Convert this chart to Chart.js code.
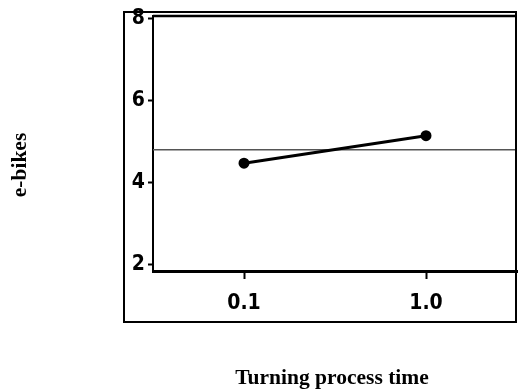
<!DOCTYPE html>
<html>
<head>
<meta charset="utf-8">
<script src="https://cdn.jsdelivr.net/npm/chart.js@4/dist/chart.umd.min.js"></script>
<style>
  html, body { margin: 0; padding: 0; background: #ffffff; }
  #wrap { width: 518px; height: 390px; }
</style>
</head>
<body>
<div id="wrap"><canvas id="c" width="518" height="390"></canvas></div>
<script>
// ---- data ----
const categories = ['0.1', '1.0'];
const meanValues = [4.48, 5.15];
const overallMean = 4.81;
const yTickValues = [2, 4, 6, 8];
const xTitle = 'Turning process time';
const yTitle = 'e-bikes';

const tickFont = { family: "'DejaVu Sans Condensed', 'DejaVu Sans', sans-serif", size: 21, weight: 'bold' };

const framePlugin = {
  id: 'frame',
  beforeDatasetsDraw(chart) {
    const { ctx, chartArea, scales } = chart;
    const y = scales.y.getPixelForValue(overallMean);
    ctx.save();
    ctx.strokeStyle = '#555555';
    ctx.lineWidth = 1.5;
    ctx.beginPath();
    ctx.moveTo(chartArea.left, y);
    ctx.lineTo(chartArea.right, y);
    ctx.stroke();
    ctx.restore();
  },
  afterDraw(chart) {
    const { ctx, chartArea } = chart;
    ctx.save();
    ctx.strokeStyle = '#000000';
    // outer frame
    ctx.lineWidth = 2;
    ctx.strokeRect(chartArea.left - 29, chartArea.top - 4, (chartArea.right - 1) - (chartArea.left - 29), 322 - (chartArea.top - 4));
    // plot top line
    ctx.lineWidth = 2.5;
    ctx.beginPath();
    ctx.moveTo(chartArea.left, chartArea.top);
    ctx.lineTo(chartArea.right, chartArea.top);
    ctx.stroke();
    // axis titles
    ctx.fillStyle = '#000000';
    ctx.font = "bold 21.5px 'Liberation Serif', 'Times New Roman', serif";
    ctx.textAlign = 'center';
    ctx.textBaseline = 'middle';
    ctx.fillText(xTitle, 332, 378);
    ctx.translate(20, 165);
    ctx.rotate(-Math.PI / 2);
    ctx.fillText(yTitle, 0, 0);
    ctx.restore();
  }
};

new Chart(document.getElementById('c'), {
  type: 'line',
  data: {
    labels: categories,
    datasets: [{
      data: meanValues,
      borderColor: '#000000',
      backgroundColor: '#000000',
      borderWidth: 3,
      pointRadius: 4,
      pointHoverRadius: 4,
      pointBackgroundColor: '#000000',
      pointBorderColor: '#000000',
      tension: 0,
      fill: false
    }]
  },
  options: {
    responsive: false,
    devicePixelRatio: 1,
    animation: false,
    events: [],
    layout: { autoPadding: false, padding: { left: 0, right: 1, top: 16, bottom: 0 } },
    plugins: { legend: { display: false }, tooltip: { enabled: false }, title: { display: false } },
    scales: {
      x: {
        type: 'category',
        offset: true,
        grid: { display: true, drawOnChartArea: false, drawTicks: true, tickLength: 8, tickWidth: 2, tickColor: '#000000', offset: false },
        border: { display: true, color: '#000000', width: 3 },
        ticks: { color: '#000000', font: tickFont, padding: 12, maxRotation: 0 },
        afterFit(scale) { scale.height = 119; }
      },
      y: {
        type: 'linear',
        min: 1.85,
        max: 8.07,
        afterBuildTicks(scale) { scale.ticks = yTickValues.map(v => ({ value: v })); },
        grid: { display: true, drawOnChartArea: false, drawTicks: true, tickLength: 5, tickWidth: 2, tickColor: '#000000' },
        border: { display: true, color: '#000000', width: 2 },
        ticks: { color: '#000000', font: tickFont, padding: 3 },
        afterFit(scale) { scale.width = 153; }
      }
    }
  },
  plugins: [framePlugin]
});
</script>
</body>
</html>
